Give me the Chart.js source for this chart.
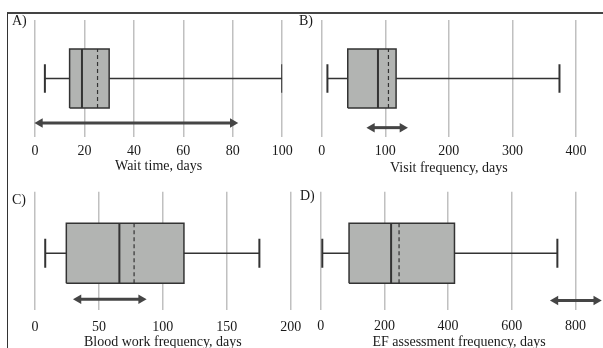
<!DOCTYPE html>
<html>
<head>
<meta charset="utf-8">
<script src="https://cdn.jsdelivr.net/npm/chart.js@4.4.0/dist/chart.umd.min.js"></script>
<style>
  html, body { margin: 0; padding: 0; background: #fff; }
  #wrap { position: relative; width: 603px; height: 348px; overflow: hidden; font-family: "Liberation Serif", serif; }
  #frame { position: absolute; left: 7px; top: 12px; width: 620px; height: 360px; border-top: 2px solid #444; border-left: 1px solid #333; }
  .pane { position: absolute; }
  .tag { position: absolute; font-size: 14px; line-height: 14px; color: #1a1a1a; }
</style>
</head>
<body>
<div id="wrap"><div id="frame"></div></div>
<script>
// data, one entry per panel (A, B, C, D)
const panelTags = ['A)', 'B)', 'C)', 'D)'];
const axisTitles = ['Wait time, days', 'Visit frequency, days', 'Blood work frequency, days', 'EF assessment frequency, days'];
const tickValues = [
  [0, 20, 40, 60, 80, 100],
  [0, 100, 200, 300, 400],
  [0, 50, 100, 150, 200],
  [0, 200, 400, 600, 800]
];
const whiskerLow = [4, 9, 8, 5];
const quartile1 = [14, 41, 24.5, 89];
const medians = [19, 88.5, 66, 221];
const means = [25.3, 105, 77.5, 246];
const quartile3 = [30, 117, 116.5, 420];
const whiskerHigh = [100, 374, 175.5, 743];
const arrowFrom = [2, 79, 34, 737];
const arrowTo = [80, 127, 83, 865];

// layout of each panel on the page
const panes = [
  { left: 8, top: 14, w: 292, h: 162, pad: { left: 27, right: 17, top: 6, bottom: 3 }, tickPad: 7.3, axisH: 36, mid: 0.5, arrowY: 0.12, tag: [12, 14] },
  { left: 300, top: 14, w: 303, h: 162, pad: { left: 21.7, right: 27, top: 6, bottom: 1 }, tickPad: 7.3, axisH: 38, mid: 0.5, arrowY: 0.08, tag: [299, 14] },
  { left: 8, top: 176, w: 310, h: 174, pad: { left: 27, right: 27.3, top: 15.7, bottom: 0.7 }, tickPad: 10.7, axisH: 39.3, mid: 0.48, arrowY: 0.09, tag: [12, 193] },
  { left: 300, top: 176, w: 303, h: 174, pad: { left: 20.7, right: 0, top: 15.7, bottom: 0.3 }, tickPad: 9.3, axisH: 39.7, mid: 0.48, arrowY: 0.08, tag: [300, 189], axisMax: 869 }
];

const dark = '#333333';
const boxHalf = 0.253;
const capHalf = 0.122;
const font = { family: 'Liberation Serif', size: 14, lineHeight: 1 };

const seg = (x0, y0, x1, y1, extra) => Object.assign({
  type: 'line',
  data: [{ x: x0, y: y0 }, { x: x1, y: y1 }],
  borderColor: dark,
  borderWidth: 1.5,
  pointRadius: 0,
  fill: false,
  order: 0
}, extra || {});

const wrap = document.getElementById('wrap');

panes.forEach((p, i) => {
  const canvas = document.createElement('canvas');
  canvas.className = 'pane';
  canvas.width = p.w;
  canvas.height = p.h;
  canvas.style.left = p.left + 'px';
  canvas.style.top = p.top + 'px';
  wrap.appendChild(canvas);

  const tag = document.createElement('div');
  tag.className = 'tag';
  tag.textContent = panelTags[i];
  tag.style.left = p.tag[0] + 'px';
  tag.style.top = p.tag[1] + 'px';
  wrap.appendChild(tag);

  const lo = p.mid - boxHalf, hi = p.mid + boxHalf;
  const cLo = p.mid - capHalf, cHi = p.mid + capHalf;
  const ticks = tickValues[i];

  const datasets = [
    // box
    {
      type: 'line',
      data: [
        { x: quartile1[i], y: lo }, { x: quartile3[i], y: lo },
        { x: quartile3[i], y: hi }, { x: quartile1[i], y: hi },
        { x: quartile1[i], y: lo }
      ],
      borderColor: dark,
      borderWidth: 1.5,
      backgroundColor: '#b2b4b2',
      fill: 'shape',
      pointRadius: 0,
      order: 5
    },
    seg(whiskerLow[i], p.mid, quartile1[i], p.mid),
    seg(quartile3[i], p.mid, whiskerHigh[i], p.mid),
    seg(whiskerLow[i], cLo, whiskerLow[i], cHi, { borderWidth: 2 }),
    seg(whiskerHigh[i], cLo, whiskerHigh[i], cHi, { borderWidth: 2 }),
    seg(medians[i], lo, medians[i], hi, { borderWidth: 2 }),
    seg(means[i], lo, means[i], hi, { borderWidth: 1.2, borderDash: [4, 3] }),
    // range arrow
    seg(arrowFrom[i], p.arrowY, arrowTo[i], p.arrowY, {
      borderColor: '#454545',
      borderWidth: 3,
      pointRadius: 5.5,
      pointStyle: 'triangle',
      pointRotation: [-90, 90],
      pointBackgroundColor: '#454545',
      pointBorderColor: '#454545',
      pointBorderWidth: 0,
      clip: false
    })
  ];

  new Chart(canvas, {
    type: 'scatter',
    data: { datasets },
    options: {
      responsive: false,
      animation: false,
      events: [],
      layout: { padding: p.pad },
      plugins: { legend: { display: false }, tooltip: { enabled: false } },
      scales: {
        x: {
          type: 'linear',
          min: ticks[0],
          max: p.axisMax || ticks[ticks.length - 1],
          afterBuildTicks: (scale) => { scale.ticks = ticks.map(v => ({ value: v })); },
          afterFit: (scale) => { scale.height = p.axisH; },
          grid: { color: '#c0c0c0', lineWidth: 1.5, drawTicks: false },
          border: { display: false },
          ticks: { padding: p.tickPad, color: '#1a1a1a', font },
          title: { display: true, text: axisTitles[i], color: '#1a1a1a', font, padding: 0 }
        },
        y: { type: 'linear', display: false, min: 0, max: 1 }
      }
    }
  });
});
</script>
</body>
</html>
